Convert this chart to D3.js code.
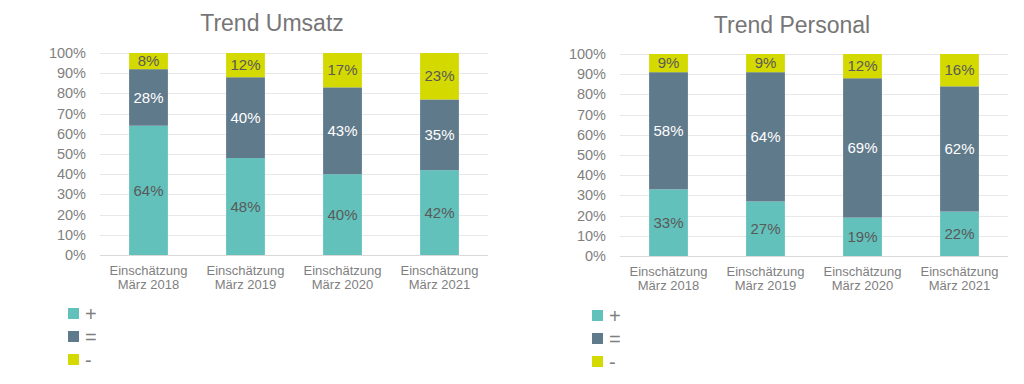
<!DOCTYPE html>
<html>
<head>
<meta charset="utf-8">
<script src="https://cdn.jsdelivr.net/npm/d3@7"></script>
<style>
	body { margin: 0; background: #fff; }
	svg { display: block; font-family: 'Liberation Sans', Arial, sans-serif; }
</style>
</head>
<body>
<div id="chart"></div>
<script>
// categories and series
const categories = ['Einschätzung\nMärz 2018', 'Einschätzung\nMärz 2019', 'Einschätzung\nMärz 2020', 'Einschätzung\nMärz 2021'];
const seriesNames = ['+', '=', '-'];

const umsatzPlus = [64, 48, 40, 42];
const umsatzEqual = [28, 40, 43, 35];
const umsatzMinus = [8, 12, 17, 23];

const personalPlus = [33, 27, 19, 22];
const personalEqual = [58, 64, 69, 62];
const personalMinus = [9, 9, 12, 16];

const yTicks = [0, 10, 20, 30, 40, 50, 60, 70, 80, 90, 100];

const colors = ['#63c1bc', '#5f7a8b', '#d4da00'];
const labelColors = ['#595959', '#ffffff', '#595959'];

const svg = d3.select('#chart')
	.append('svg')
	.attr('width', 1024)
	.attr('height', 384);

const drawChart = (cfg) => {
	const rows = categories.map((c, i) => ({
		cat: c,
		'+': cfg.series[0][i],
		'=': cfg.series[1][i],
		'-': cfg.series[2][i]
	}));
	const stacked = d3.stack().keys(seriesNames)(rows);

	const x = d3.scaleBand().domain(categories).range([ cfg.left, cfg.right ]).paddingInner(0.6).paddingOuter(0.3);
	const y = d3.scaleLinear().domain([ 0, 100 ]).range([ cfg.bottom, cfg.top ]);

	const g = svg.append('g');

	// title
	g.append('text')
		.attr('x', (cfg.left + cfg.right) / 2 - cfg.titleShift)
		.attr('y', cfg.titleY)
		.attr('text-anchor', 'middle')
		.style('font-size', '23px')
		.style('fill', '#767676')
		.text(cfg.title);

	// gridlines
	g.selectAll('.grid')
		.data(yTicks)
		.join('line')
		.attr('x1', cfg.left)
		.attr('x2', cfg.right)
		.attr('y1', (d) => Math.round(y(d)) + 0.5)
		.attr('y2', (d) => Math.round(y(d)) + 0.5)
		.style('stroke', (d) => d === 0 ? '#d9d9d9' : '#e8e8e8')
		.style('stroke-width', 1);

	// y axis labels
	g.selectAll('.ytick')
		.data(yTicks)
		.join('text')
		.attr('x', cfg.left - 14)
		.attr('y', (d) => y(d))
		.attr('dy', '0.35em')
		.attr('text-anchor', 'end')
		.style('font-size', '14.5px')
		.style('fill', '#7f7f7f')
		.text((d) => `${d}%`);

	// bars
	const layers = g.selectAll('.layer')
		.data(stacked)
		.join('g')
		.style('fill', (d, i) => colors[i]);

	layers.selectAll('rect')
		.data((d) => d)
		.join('rect')
		.attr('x', (d) => x(d.data.cat))
		.attr('width', x.bandwidth())
		.attr('y', (d) => y(d[1]))
		.attr('height', (d) => y(d[0]) - y(d[1]));

	// value labels
	stacked.forEach((layer, si) => {
		g.selectAll(null)
			.data(layer)
			.join('text')
			.attr('x', (d) => x(d.data.cat) + x.bandwidth() / 2)
			.attr('y', (d) => y((d[0] + d[1]) / 2))
			.attr('dy', '0.35em')
			.attr('text-anchor', 'middle')
			.style('font-size', '15px')
			.style('fill', labelColors[si])
			.text((d) => `${d[1] - d[0]}%`);
	});

	// category labels
	const catText = g.selectAll('.cat')
		.data(categories)
		.join('text')
		.attr('x', (d) => x(d) + x.bandwidth() / 2)
		.attr('y', cfg.bottom + 20)
		.attr('text-anchor', 'middle')
		.style('font-size', '13px')
		.style('fill', '#7f7f7f');
	catText.selectAll('tspan')
		.data((d) => d.split('\n'))
		.join('tspan')
		.attr('x', function () { return d3.select(this.parentNode).attr('x'); })
		.attr('dy', (d, i) => i === 0 ? 0 : 14)
		.text((d) => d);

	// legend
	const legend = g.selectAll('.legend')
		.data(seriesNames)
		.join('g')
		.attr('transform', (d, i) => `translate(${cfg.legendX}, ${cfg.legendY + i * 23})`);

	legend.append('rect')
		.attr('width', 11)
		.attr('height', 11)
		.style('fill', (d, i) => colors[i]);

	legend.append('text')
		.attr('x', 17)
		.attr('y', 6)
		.attr('dy', '0.35em')
		.style('font-size', '20px')
		.style('fill', '#7f7f7f')
		.text((d) => d);
};

drawChart({
	title: 'Trend Umsatz',
	series: [ umsatzPlus, umsatzEqual, umsatzMinus ],
	left: 100,
	right: 488,
	top: 53,
	bottom: 255,
	titleY: 31,
	titleShift: 22,
	legendX: 68,
	legendY: 308
});

drawChart({
	title: 'Trend Personal',
	series: [ personalPlus, personalEqual, personalMinus ],
	left: 620,
	right: 1008,
	top: 54,
	bottom: 256,
	titleY: 33,
	titleShift: 22,
	legendX: 592,
	legendY: 310
});
</script>
</body>
</html>
